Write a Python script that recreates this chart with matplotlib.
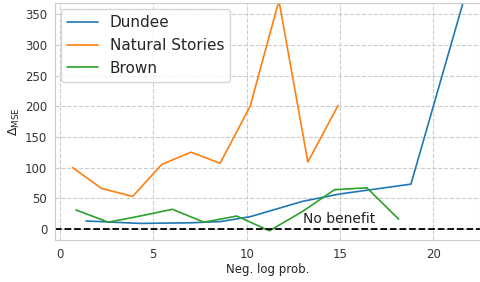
import matplotlib
matplotlib.use("Agg")
import matplotlib.pyplot as plt
import seaborn as sns

# values
dundee_x = [1.4, 4.3, 7.0, 8.6, 10.2, 13.0, 15.0, 18.8, 22.0]
dundee_y = [13, 9, 10, 12, 20, 45, 57, 73, 412]

natural_x = [0.68, 2.23, 3.9, 5.45, 7.02, 8.58, 10.19, 11.73, 13.28, 14.89]
natural_y = [100, 66, 53, 105, 125, 107, 200, 372, 109, 201]

brown_x = [0.86, 2.59, 4.3, 6.02, 7.72, 9.47, 11.22, 12.97, 14.71, 16.44, 18.14]
brown_y = [31, 11, 21, 32, 11, 21, -3, 28, 64, 67, 16]

sns.set_style("whitegrid", {"grid.linestyle": "--"})
plt.rcParams['font.family'] = ['DejaVu Sans']

fig = plt.figure(figsize=(4.81, 2.82), dpi=100)
ax = fig.add_axes([0.114, 0.149, 0.884, 0.84])

ax.plot(dundee_x, dundee_y, color='#1f77b4', lw=1.2, label='Dundee')
ax.plot(natural_x, natural_y, color='#ff7f0e', lw=1.2, label='Natural Stories')
ax.plot(brown_x, brown_y, color='#2ca02c', lw=1.2, label='Brown')
ax.axhline(0, color='black', ls='--', lw=1.3)
ax.text(13.0, 9, 'No benefit', fontsize=10, color='#222222')

ax.set_xlim(-0.27, 22.5)
ax.set_ylim(-18, 368)
ax.set_xticks([0, 5, 10, 15, 20])
ax.set_yticks([0, 50, 100, 150, 200, 250, 300, 350])
ax.tick_params(labelsize=8.5, colors='#333333', pad=2)
ax.set_xlabel('Neg. log prob.', fontsize=8.5, color='#222222', labelpad=2)
ax.set_ylabel(r'$\Delta_{\mathrm{MSE}}$', fontsize=9, color='#222222', labelpad=2)
ax.legend(loc='upper left', fontsize=11, handlelength=2, borderaxespad=0.4)

fig.savefig('out.png', dpi=100)
